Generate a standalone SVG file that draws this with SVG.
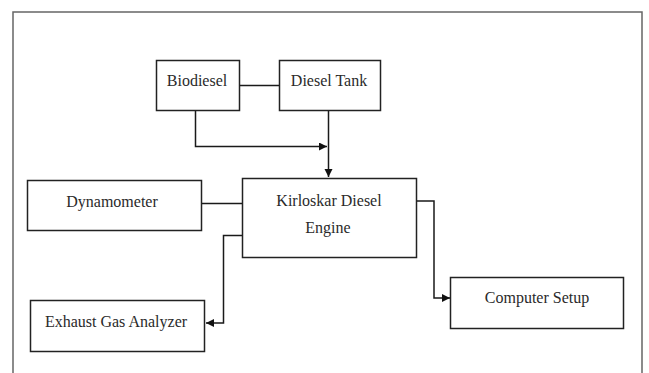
<svg xmlns="http://www.w3.org/2000/svg" width="649" height="373" viewBox="0 0 649 373">
<style>
.box{fill:#fff;stroke:#222;stroke-width:1.5}
.lbl{font-family:"Liberation Serif","Times New Roman",serif;font-size:16px;fill:#2a2a2a;text-anchor:middle}
.con{fill:none;stroke:#1a1a1a;stroke-width:1.5}
</style>
<defs>
<marker id="ah" markerWidth="10" markerHeight="10" refX="8" refY="4" orient="auto" markerUnits="userSpaceOnUse">
<path d="M0,0 L8,4 L0,8 Z" fill="#111"/>
</marker>
</defs>
<rect width="649" height="373" fill="#fff"/>
<path d="M13,380 V12 H642 V380" fill="none" stroke="#666" stroke-width="1.5"/>
<g id="connectors">
<path class="con" d="M240,85.5 H280"/>
<path class="con" d="M195.5,110 V146.5 H327" marker-end="url(#ah)"/>
<path class="con" d="M328.5,110 V177" stroke="#777" stroke-width="2" marker-end="url(#ah)"/>
<path class="con" d="M201,203.5 H243"/>
<path class="con" d="M243,235.5 H223.5 V323 H206" marker-end="url(#ah)"/>
<path class="con" d="M416,201 H434 V298 H450" marker-end="url(#ah)"/>
</g>
<g id="biodiesel"><rect class="box" x="156.5" y="60.5" width="83" height="50"/><text class="lbl" x="197" y="86">Biodiesel</text></g>
<g id="diesel-tank"><rect class="box" x="279.5" y="60.5" width="101" height="50"/><text class="lbl" x="329" y="86">Diesel Tank</text></g>
<g id="engine"><rect class="box" x="242.5" y="178.5" width="174" height="79"/><text class="lbl" x="329" y="206">Kirloskar Diesel</text><text class="lbl" x="328" y="233">Engine</text></g>
<g id="dynamometer"><rect class="box" x="27.5" y="180.5" width="174" height="50"/><text class="lbl" x="112" y="207">Dynamometer</text></g>
<g id="exhaust"><rect class="box" x="30.5" y="300.5" width="174" height="51"/><text class="lbl" x="116" y="327">Exhaust Gas Analyzer</text></g>
<g id="computer"><rect class="box" x="450.5" y="277.5" width="173" height="51"/><text class="lbl" x="537" y="303">Computer Setup</text></g>
</svg>
